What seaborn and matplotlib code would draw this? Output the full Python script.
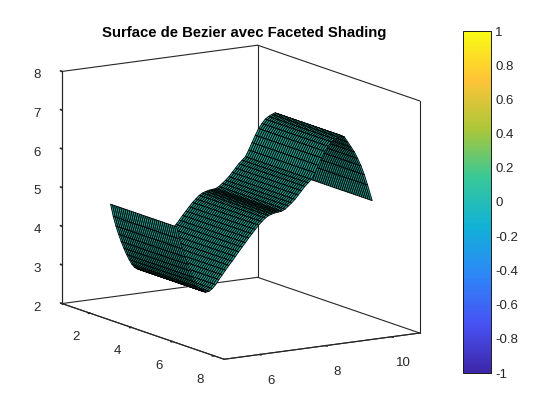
import numpy as np
import matplotlib
matplotlib.use("Agg")
import matplotlib.pyplot as plt
from matplotlib.transforms import Affine2D
import seaborn as sns

# profile of the surface
y_prof = [4.92, 5.00, 5.08, 5.16, 5.24, 5.32, 5.40, 5.48, 5.56, 5.64, 5.72, 5.80,
          5.90, 6.00, 6.10, 6.20, 6.30, 6.40, 6.50, 6.60, 6.70, 6.80, 6.90, 7.00,
          7.10, 7.20, 7.30, 7.40, 7.50, 7.60, 7.70, 7.80, 7.90, 8.00, 8.10, 8.20,
          8.30, 8.40, 8.50, 8.60, 8.70, 8.80, 8.90, 9.00, 9.10, 9.20, 9.30, 9.40,
          9.50, 9.60, 9.70, 9.80, 9.90, 10.00, 10.10, 10.20, 10.30, 10.40, 10.50,
          10.60, 10.70, 10.84]
z_prof = [5.00, 4.68, 4.42, 4.20, 4.00, 3.82, 3.65, 3.51, 3.38, 3.29, 3.24, 3.21,
          3.22, 3.28, 3.37, 3.49, 3.60, 3.71, 3.82, 3.92, 4.03, 4.14, 4.25, 4.35,
          4.46, 4.56, 4.66, 4.76, 4.84, 4.92, 4.97, 5.00, 5.02, 5.03, 5.04, 5.08,
          5.15, 5.22, 5.30, 5.40, 5.50, 5.60, 5.68, 5.76, 5.92, 6.10, 6.28, 6.44,
          6.56, 6.66, 6.72, 6.76, 6.79, 6.74, 6.60, 6.46, 6.32, 6.14, 5.94,
          5.70, 5.42, 5.00]
x_prof = [3.0, 3.1, 3.2, 3.3, 3.4, 3.5, 3.6, 3.7, 3.8, 3.9, 4.0, 4.1, 4.2, 4.3, 4.4, 4.5,
          4.6, 4.7, 4.8, 4.9, 5.0, 5.1, 5.2, 5.3, 5.4, 5.5, 5.6, 5.7, 5.8, 5.9, 6.0, 6.1, 6.2]

x_lim = (0.65, 8.5)
y_lim = (4.92, 10.84)
z_lim = (2, 8)
x_ticks = [2, 4, 6, 8]
y_ticks = [6, 8, 10]
z_ticks = [2, 3, 4, 5, 6, 7, 8]
cb_ticks = [-1, -0.8, -0.6, -0.4, -0.2, 0, 0.2, 0.4, 0.6, 0.8, 1]
cb_labels = ["-1", "-0.8", "-0.6", "-0.4", "-0.2", "0", "0.2", "0.4", "0.6", "0.8", "1"]

parula = [(0.2422, 0.1504, 0.6603), (0.2810, 0.3228, 0.9579), (0.1786, 0.5289, 0.9682),
          (0.0689, 0.6948, 0.8394), (0.2161, 0.7843, 0.5923), (0.6720, 0.7793, 0.2227),
          (0.9970, 0.7659, 0.2199), (0.9769, 0.9839, 0.0805)]
face = (0.12, 0.64, 0.58)

sns.set_theme(style="white")
plt.rcParams['font.family'] = ['Liberation Sans', 'DejaVu Sans']
cmap = sns.blend_palette(parula, as_cmap=True)

txt = "#262626"
fig = plt.figure(figsize=(5.6, 4.2), dpi=100)

ax = fig.add_axes([0.01, 0.005, 0.82, 1.0], projection='3d', proj_type='ortho', computed_zorder=False)
ax.patch.set_alpha(0)

# box edges, the panes only give a pale outline
x0, x1 = x_lim
y0, y1 = y_lim
z0, z1 = z_lim
box = [([x0, x0], [y0, y0], [z0, z1]), ([x0, x0], [y1, y1], [z0, z1]), ([x1, x1], [y1, y1], [z0, z1]),
       ([x0, x0], [y0, y1], [z1, z1]), ([x0, x1], [y1, y1], [z1, z1]),
       ([x0, x0], [y0, y1], [z0, z0]), ([x0, x1], [y1, y1], [z0, z0]),
       ([x0, x1], [y0, y0], [z0, z0]), ([x1, x1], [y0, y1], [z0, z0])]
for bx, by, bz in box:
    ax.plot(bx, by, bz, color=txt, lw=0.8, zorder=1)

X, Y = np.meshgrid(x_prof, y_prof)
Z = np.tile(np.array(z_prof).reshape(-1, 1), (1, len(x_prof)))
ax.plot_surface(X, Y, Z, rstride=1, cstride=1, color=face, shade=False,
                edgecolor='black', linewidth=0.6, antialiased=True, zorder=3)

ax.set_xlim(x_lim)
ax.set_ylim(y_lim)
ax.set_zlim(z_lim)
ax.set_box_aspect((7.85, 5.92, 6.1), zoom=1.042)
ax.view_init(elev=12.4, azim=-32)

ax.set_xticks(x_ticks)
ax.set_yticks(y_ticks)
ax.set_zticks(z_ticks)
ax.grid(False)
for a in (ax.xaxis, ax.yaxis, ax.zaxis):
    a.pane.set_facecolor((1, 1, 1, 0))
    a.pane.set_edgecolor((1, 1, 1, 0))
    a.line.set_color(txt)
    a.line.set_linewidth(0.8)
    a._axinfo['tick']['inward_factor'] = 0.1
    a._axinfo['tick']['outward_factor'] = 0.0
ax.zaxis._axinfo['tick']['inward_factor'] = 0.0
ax.zaxis._axinfo['tick']['outward_factor'] = 0.12
ax.zaxis._axinfo['juggled'] = (1, 2, 0)  # z axis on the left corner
ax.tick_params(labelsize=9.5, colors=txt, pad=3)

# mplot3d pushes its tick labels too far down, nudge them back in pixels
for a, dx, dy in ((ax.xaxis, -3, 13), (ax.yaxis, -1, 14), (ax.zaxis, 10, 5)):
    for t in a.get_major_ticks():
        t.label1.set_transform(ax.transData + Affine2D().translate(dx, dy))

fig.text(244 / 560, 1 - 33.5 / 420, "Surface de Bezier avec Faceted Shading", ha='center', va='center',
         fontsize=10.75, fontweight='bold', color='black')

cax = fig.add_axes([463 / 560, 1 - 373 / 420, 28 / 560, 342 / 420])
sm = plt.cm.ScalarMappable(norm=plt.Normalize(-1, 1), cmap=cmap)
cb = fig.colorbar(sm, cax=cax)
cb.set_ticks(cb_ticks, labels=cb_labels)
cb.ax.tick_params(direction='in', length=3, width=0.6, labelsize=9.5, colors=txt, pad=3)
cb.outline.set_edgecolor('#1a1a1a')
cb.outline.set_linewidth(0.7)

fig.savefig("out.png", dpi=100)
